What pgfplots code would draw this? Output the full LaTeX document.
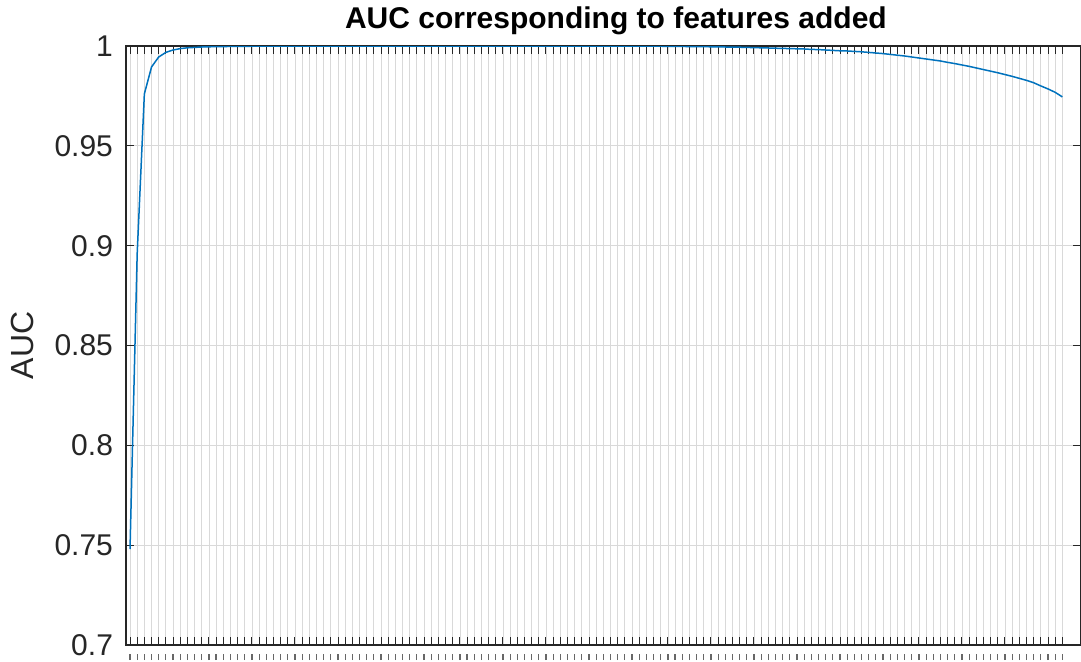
\documentclass[border=0pt]{standalone}
\usepackage{pgfplots}
\pgfplotsset{compat=1.18}
\usepackage{fontspec}
\setmainfont{Liberation Sans}
\definecolor{mblue}{rgb}{0,0.447,0.741}
\definecolor{axgray}{rgb}{0.15,0.15,0.15}
\begin{document}
\begin{tikzpicture}
\useasboundingbox (0,0) rectangle (540.5pt,330.5pt);
\begin{axis}[
  at={(63pt,8pt)}, anchor=south west,
  scale only axis, width=477.5pt, height=299.5pt,
  xmin=0.44, xmax=133.6, ymin=0.7, ymax=1,
  xtick={1,...,131},
  xticklabel={\color{axgray!70}\rule{0.6pt}{3pt}},
  xticklabel style={yshift=-1pt},
  ytick={0.7,0.75,0.8,0.85,0.9,0.95,1},
  yticklabels={0.7,0.75,0.8,0.85,0.9,0.95,1},
  yticklabel style={xshift=-3pt},
  tick align=inside, major tick length=4pt,
  tick style={axgray, line width=0.5pt},
  axis line style={axgray, line width=0.6pt},
  grid=major, major grid style={gray!30, line width=0.4pt},
  ticklabel style={font=\fontsize{15}{18}\selectfont, text=axgray},
  title={AUC corresponding to features added},
  title style={font=\fontsize{15}{18}\selectfont\bfseries,
    at={(axis description cs:0.513,1)}, anchor=base, yshift=3pt},
  ylabel={AUC},
  ylabel style={font=\fontsize{16}{19}\selectfont, text=axgray,
    at={(axis description cs:0,0.5)}, anchor=center, yshift=52pt},
]
\addplot[mblue, line width=0.75pt] table {
x y
1 0.748
2 0.896
3 0.976
4 0.9895
5 0.9945
6 0.9968
7 0.9980
8 0.9987
9 0.9991
10 0.9993
11 0.9995
12 0.9996
13 0.9997
14 0.9997
15 0.9998
16 0.9998
17 0.9998
18 0.9999
19 0.9999
20 0.9999
21 0.9999
22 0.9999
23 1.0000
24 1.0000
25 1.0000
26 1.0000
27 1.0000
28 1.0000
29 1.0000
30 1.0000
31 1.0000
32 1.0000
33 1.0000
34 1.0000
35 1.0000
36 1.0000
37 1.0000
38 1.0000
39 1.0000
40 1.0000
41 1.0000
42 1.0000
43 1.0000
44 1.0000
45 1.0000
46 1.0000
47 1.0000
48 1.0000
49 1.0000
50 1.0000
51 1.0000
52 1.0000
53 1.0000
54 1.0000
55 1.0000
56 1.0000
57 1.0000
58 1.0000
59 1.0000
60 1.0000
61 1.0000
62 1.0000
63 1.0000
64 0.9999
65 0.9999
66 0.9999
67 0.9999
68 0.9999
69 0.9999
70 0.9999
71 0.9999
72 0.9999
73 0.9999
74 0.9999
75 0.9999
76 0.9998
77 0.9998
78 0.9998
79 0.9997
80 0.9997
81 0.9997
82 0.9996
83 0.9996
84 0.9995
85 0.9995
86 0.9994
87 0.9993
88 0.9992
89 0.9991
90 0.9990
91 0.9989
92 0.9988
93 0.9987
94 0.9986
95 0.9985
96 0.9983
97 0.9982
98 0.9980
99 0.9978
100 0.9976
101 0.9975
102 0.9973
103 0.9971
104 0.9968
105 0.9965
106 0.9962
107 0.9958
108 0.9954
109 0.9950
110 0.9945
111 0.9940
112 0.9935
113 0.9930
114 0.9925
115 0.9918
116 0.9912
117 0.9905
118 0.9898
119 0.9890
120 0.9882
121 0.9874
122 0.9866
123 0.9857
124 0.9848
125 0.9838
126 0.9828
127 0.9816
128 0.9800
129 0.9785
130 0.9768
131 0.9745
};
\end{axis}
\end{tikzpicture}
\end{document}
